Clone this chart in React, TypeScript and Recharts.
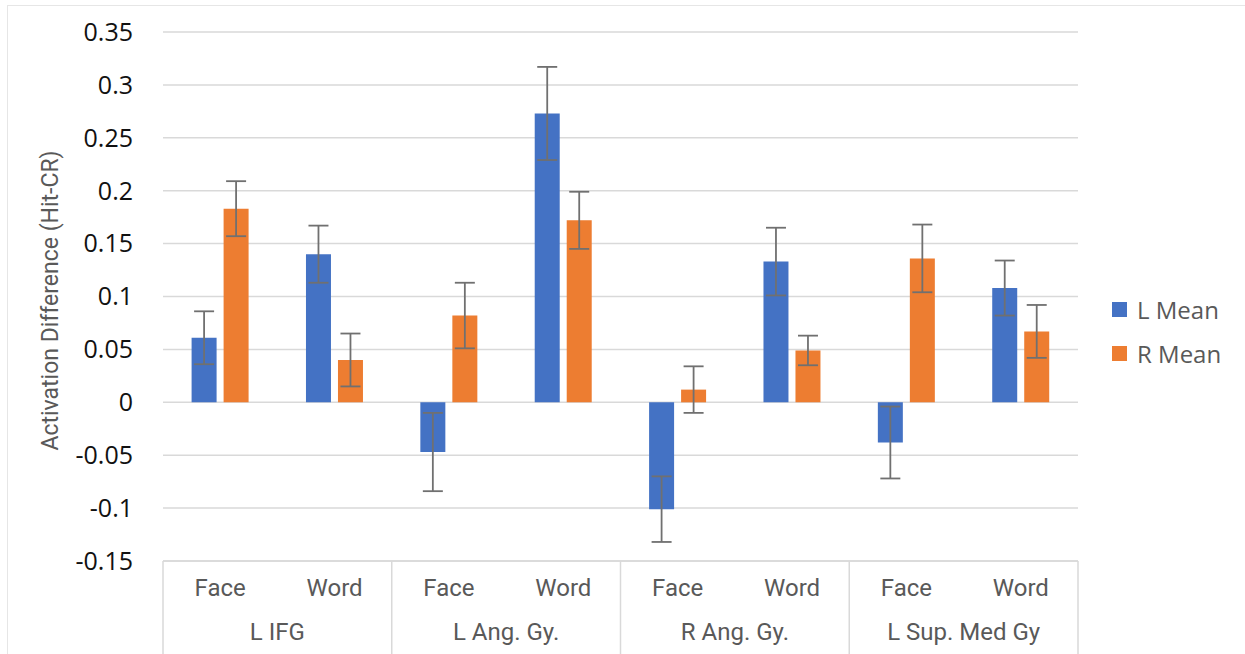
import React from "react";
import {
  BarChart,
  Bar,
  XAxis,
  YAxis,
  CartesianGrid,
  ErrorBar,
  Legend,
  Label,
} from "recharts";

// categories (two-level axis)
const regions = ["L IFG", "L Ang. Gy.", "R Ang. Gy.", "L Sup. Med Gy"];
const conditions = ["Face", "Word"];

// series values, in order L IFG Face, L IFG Word, L Ang Face, ...
const lMean = [0.061, 0.14, -0.047, 0.273, -0.101, 0.133, -0.038, 0.108];
const lErr = [0.025, 0.027, 0.037, 0.044, 0.031, 0.032, 0.034, 0.026];
const rMean = [0.183, 0.04, 0.082, 0.172, 0.012, 0.049, 0.136, 0.067];
const rErr = [0.026, 0.025, 0.031, 0.027, 0.022, 0.014, 0.032, 0.025];

const yTicks = [-0.15, -0.1, -0.05, 0, 0.05, 0.1, 0.15, 0.2, 0.25, 0.3, 0.35];

const data = lMean.map((v, i) => ({
  region: regions[Math.floor(i / 2)],
  cond: conditions[i % 2],
  L: v,
  Lerr: lErr[i],
  R: rMean[i],
  Rerr: rErr[i],
}));

const W = 1245;
const H = 654;
const PLOT_LEFT = 163;
const PLOT_RIGHT = 1078;
const PLOT_TOP = 32;
const PLOT_BOTTOM = 561;
const BAND = (PLOT_RIGHT - PLOT_LEFT) / data.length;

const BLUE = "#4472C4";
const ORANGE = "#ED7D31";
const LABEL_GREY = "#595959";
const LINE_GREY = "#d9d9d9";

// Face/Word tick, plus group label and separators underneath
const CategoryTick = (props: any) => {
  const { x, index, payload } = props;
  const i = payload.index ?? index;
  const row = data[i];
  const isFirst = i % 2 === 0;
  const isLast = i === data.length - 1;
  return (
    <g>
      <text
        x={x}
        y={PLOT_BOTTOM + 35}
        textAnchor="middle"
        fill={LABEL_GREY}
        fontSize={24}
        fontFamily="Roboto, sans-serif"
      >
        {payload.value}
      </text>
      {isFirst && (
        <>
          <text
            x={x + BAND / 2}
            y={PLOT_BOTTOM + 79}
            textAnchor="middle"
            fill={LABEL_GREY}
            fontSize={24}
            fontFamily="Roboto, sans-serif"
          >
            {row.region}
          </text>
          <line
            x1={x - BAND / 2}
            x2={x - BAND / 2}
            y1={PLOT_BOTTOM}
            y2={H}
            stroke={LINE_GREY}
            strokeWidth={1.5}
          />
        </>
      )}
      {isLast && (
        <line
          x1={x + BAND / 2}
          x2={x + BAND / 2}
          y1={PLOT_BOTTOM}
          y2={H}
          stroke={LINE_GREY}
          strokeWidth={1.5}
        />
      )}
    </g>
  );
};

const LegendBox = () => (
  <div style={{ fontFamily: "'Open Sans', sans-serif", fontSize: 24, color: LABEL_GREY }}>
    {[
      { name: "L Mean", color: BLUE },
      { name: "R Mean", color: ORANGE },
    ].map((item) => (
      <div
        key={item.name}
        style={{ display: "flex", alignItems: "center", height: 44 }}
      >
        <span
          style={{
            display: "inline-block",
            width: 15,
            height: 15,
            background: item.color,
            marginRight: 10,
          }}
        />
        {item.name}
      </div>
    ))}
  </div>
);

export default function App() {
  return (
    <div
      style={{
        width: W,
        height: H,
        position: "relative",
        background: "#fff",
      }}
    >
      <style>{"body{margin:0}"}</style>
      {/* outer chart-area border like the Excel frame */}
      <div
        style={{
          position: "absolute",
          left: 7,
          top: 5,
          width: W,
          height: H,
          border: "1.5px solid #e6e6e6",
          boxSizing: "border-box",
        }}
      />
      <BarChart
        width={W}
        height={H}
        data={data}
        margin={{ top: PLOT_TOP, right: W - PLOT_RIGHT, bottom: 0, left: 0 }}
        barCategoryGap="25%"
        barGap={7}
      >
        <CartesianGrid vertical={false} stroke={LINE_GREY} strokeWidth={1.5} />
        <XAxis
          dataKey="cond"
          height={H - PLOT_BOTTOM}
          axisLine={{ stroke: LINE_GREY, strokeWidth: 1.5 }}
          tickLine={false}
          interval={0}
          tick={<CategoryTick />}
        />
        <YAxis
          width={PLOT_LEFT}
          domain={[-0.15, 0.35]}
          ticks={yTicks}
          axisLine={false}
          tickLine={false}
          tickSize={0}
          tickMargin={30}
          tickFormatter={(v: number) => String(Number(v.toFixed(2)))}
          tick={{ fill: "#111", fontSize: 25, fontFamily: "'Open Sans', sans-serif" }}
        >
          <Label
            content={() => (
              <text
                x={58}
                y={(PLOT_TOP + PLOT_BOTTOM) / 2 + 4}
                transform={`rotate(-90 58 ${(PLOT_TOP + PLOT_BOTTOM) / 2 + 4})`}
                textAnchor="middle"
                fill={LABEL_GREY}
                fontSize={23}
                fontFamily="Roboto, sans-serif"
              >
                Activation Difference (Hit-CR)
              </text>
            )}
          />
        </YAxis>
        <Legend
          layout="vertical"
          align="center"
          verticalAlign="middle"
          content={<LegendBox />}
          wrapperStyle={{ left: 1112, top: 287, width: 133 }}
        />
        <Bar dataKey="L" name="L Mean" fill={BLUE} isAnimationActive={false}>
          <ErrorBar dataKey="Lerr" width={10} stroke="#707070" strokeWidth={1.8} />
        </Bar>
        <Bar dataKey="R" name="R Mean" fill={ORANGE} isAnimationActive={false}>
          <ErrorBar dataKey="Rerr" width={10} stroke="#707070" strokeWidth={1.8} />
        </Bar>
      </BarChart>
    </div>
  );
}
